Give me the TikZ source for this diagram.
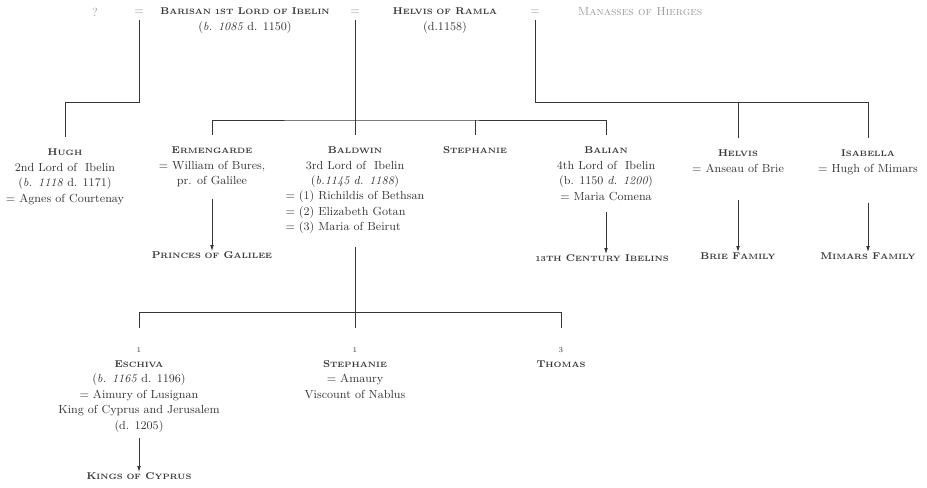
\documentclass[tikz,border=0pt]{standalone}
\usetikzlibrary{arrows.meta,positioning}
\definecolor{ink}{HTML}{363636}
\definecolor{faint}{HTML}{9A9A9A}
\newcommand{\fs}{\fontsize{8.8}{11.6}\selectfont}
\newcommand{\sm}[1]{{\fontsize{5.8}{7}\selectfont #1}}
\newcommand{\nm}[1]{{\fontsize{7.4}{11.6}\selectfont\bfseries #1}}
\newcommand{\nr}[1]{{\fontsize{5.6}{7}\selectfont #1}}
\tikzset{
    person/.style={align=center, inner sep=0pt, outer ysep=9pt, anchor=north, text=ink, font=\fs},
    spouse/.style={person, outer ysep=0pt},
    heir/.style={align=center, inner sep=0pt, anchor=north, text=ink, font=\fs},
    faded/.style={text=faint, inner sep=0pt, outer ysep=4pt, font=\fs},
    tie/.style={draw=ink, line width=0.6pt},
    descent/.style={tie, -{Latex[length=4.5pt,width=2.8pt]}}
}
\begin{document}
\begin{tikzpicture}[x=0.75pt,y=-0.75pt]
    \useasboundingbox (0,0) rectangle (927,487);
    % first generation
    \node[faded] (unknown) at (95,12) {?};
    \node[faded] (eqa) at (139,12) {=};
    \node[spouse] (barisan) at (245,8) {\nm{B\sm{ARISAN 1ST} L\sm{ORD OF} I\sm{BELIN}}\\(\textit{b. 1085} d. 1150)};
    \node[faded] (eqb) at (355,12) {=};
    \node[spouse] (helvisr) at (445,8) {\nm{H\sm{ELVIS OF} R\sm{AMLA}}\\(d.1158)};
    \node[faded] (eqc) at (535,12) {=};
    \node[faded] (manasses) at (640,12) {\textsc{Manasses of Hierges}};

    % second generation
    \node[person] (hugh) at (65,137) {\nm{H\sm{UGH}}\\2nd Lord of~ Ibelin\\(\textit{b. 1118} d. 1171)\\= Agnes of Courtenay};
    \node[person] (ermengarde) at (212,135) {\nm{E\sm{RMENGARDE}}\\= William of Bures,\\pr. of Galilee};
    \node[person] (baldwin) at (355,135) {\nm{B\sm{ALDWIN}}\\3rd Lord of~ Ibelin\\(\textit{b.1145 d. 1188})\\
        \begin{tabular}{@{}l@{}}= (1) Richildis of Bethsan\\= (2) Elizabeth Gotan\\= (3) Maria of Beirut\end{tabular}};
    \node[person] (stephanie) at (475,135) {\nm{S\sm{TEPHANIE}}};
    \node[person] (balian) at (606,135) {\nm{B\sm{ALIAN}}\\4th Lord of~ Ibelin\\(b. 1150 \textit{d. 1200})\\= Maria Comena};
    \node[person] (helvis) at (738,138) {\nm{H\sm{ELVIS}}\\= Anseau of Brie};
    \node[person] (isabella) at (868,138) {\nm{I\sm{SABELLA}}\\= Hugh of Mimars};

    \coordinate (hughbar) at (139,102);
    \draw[tie] (eqa.south) -- (hughbar) -| (hugh.north);
    \coordinate (ibelinbar) at (355,120);
    \draw[tie] (ermengarde.north) |- (ibelinbar) -| (balian.north);
    \draw[tie] (eqb.south) -- (baldwin.north);
    \draw[tie] (stephanie.north) -- (stephanie.north |- ibelinbar);
    \coordinate (manassesbar) at (535,102);
    \draw[tie] (eqc.south) -- (manassesbar) -| (isabella.north);
    \draw[tie] (helvis.north) -- (helvis.north |- manassesbar);

    % lines of descent
    \node[heir] (galilee) at (212,251) {\nm{P\sm{RINCES OF} G\sm{ALILEE}}};
    \node[heir] (ibelins) at (602,254) {\nm{\sm{13TH} C\sm{ENTURY} I\sm{BELINS}}};
    \node[heir] (brie) at (738,252) {\nm{B\sm{RIE} F\sm{AMILY}}};
    \node[heir] (mimars) at (868,252) {\nm{M\sm{IMARS} F\sm{AMILY}}};
    \draw[descent] (ermengarde.south) -- (galilee.north);
    \draw[descent] (balian.south) -- (ibelins.north -| balian.south);
    \draw[descent] ([yshift=-12pt]helvis.south) -- (brie.north);
    \draw[descent] ([yshift=-12pt]isabella.south) -- (mimars.north);

    % third generation
    \node[person] (eschiva) at (139,328) {\rule{0pt}{9pt}\nr{1}\\\nm{E\sm{SCHIVA}}\\(\textit{b. 1165} d. 1196)\\= Aimury of Lusignan\\King of Cyprus and Jerusalem\\(d. 1205)};
    \node[person] (stephanieb) at (355,328) {\rule{0pt}{9pt}\nr{1}\\\nm{S\sm{TEPHANIE}}\\= Amaury\\Viscount of Nablus};
    \node[person] (thomas) at (561,328) {\rule{0pt}{9pt}\nr{3}\\\nm{T\sm{HOMAS}}};
    \coordinate (baldwinbar) at (355,312);
    \draw[tie] (eschiva.north) |- (baldwinbar) -| (thomas.north);
    \draw[tie] (baldwin.south) -- (stephanieb.north);
    \node[heir] (cyprus) at (139,472) {\nm{K\sm{INGS OF} C\sm{YPRUS}}};
    \draw[descent] ([yshift=5pt]eschiva.south) -- (cyprus.north);
\end{tikzpicture}
\end{document}
